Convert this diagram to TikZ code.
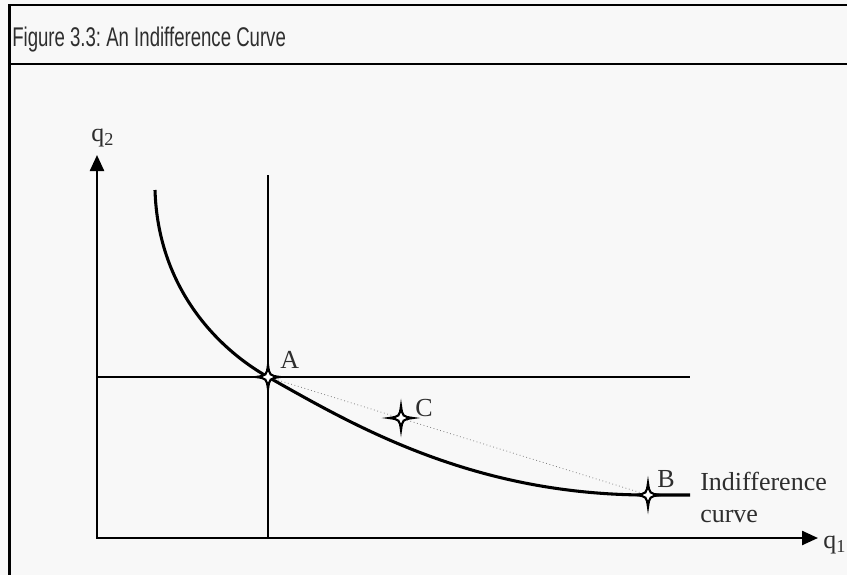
\documentclass[tikz,border=0pt]{standalone}
\usepackage{fontspec}
\setmainfont{Liberation Serif}
\newfontfamily\titlefont{Liberation Sans}
\usepackage{xcolor}
\usetikzlibrary{arrows.meta}

\definecolor{paper}{HTML}{F8F8F8}
\definecolor{ink}{HTML}{2E2E2E}

\tikzset{
  axis/.style={line width=1.8pt, {Triangle[length=12pt,width=10.5pt]}-{Triangle[length=12pt,width=10.5pt]}},
  guide/.style={line width=1.4pt},
  icurve/.style={line width=2.3pt},
  chord/.style={line width=0.6pt, gray, dotted},
  lbl/.style={text=ink, font=\fontsize{19.5}{24}\selectfont, inner sep=0pt},
  sparkle/.pic={
    \draw[line width=1.6pt, fill=white] (0,-12) .. controls (1.5,-1.5) .. (12,0)
      .. controls (1.5,1.5) .. (0,12) .. controls (-1.5,1.5) .. (-12,0)
      .. controls (-1.5,-1.5) .. cycle;
  }
}

\begin{document}
\begin{tikzpicture}[x=0.75pt, y=-0.75pt]
\useasboundingbox (0,0) rectangle (847,575);
\fill[paper] (0,0) rectangle (847,575);

% Frame and caption
\draw[line width=2.2pt] (847,5) -- (9.5,5) -- (9.5,575);
\draw[line width=2.2pt] (9.5,64) -- (847,64);
\node[anchor=base west, inner sep=0pt, text=ink, font=\titlefont\fontsize{15}{18}\selectfont]
  (title) at (12,46) {\scalebox{0.93}[1.35]{Figure 3.3:\ An Indifference Curve}};

% Points
\coordinate (O) at (97,538);
\coordinate (Ytop) at (97,155);
\coordinate (Xend) at (818,538);
\coordinate (A) at (268,377);
\coordinate (B) at (648,495);
\coordinate (C) at (401,418);
\coordinate (Vtop) at (268,175);
\coordinate (Vbot) at (268,538);
\coordinate (Hleft) at (97,377);
\coordinate (Hend) at (690,377);
\coordinate (Cstart) at (155,190);
\coordinate (Cend) at (690,495);

% Axes
\draw[axis] (Ytop) -- (O) -- (Xend);
\node[lbl, anchor=base west] (q2) at (91,141) {q\textsubscript{2}};
\node[lbl, anchor=base west] (q1) at (823,548) {q\textsubscript{1}};

% Lines through A
\draw[guide] (Vtop) -- (Vbot);
\draw[guide] (Hleft) -- (Hend);

% Indifference curve
\draw[icurve] (Cstart) .. controls (158,290) and (220,350) .. (A)
  .. controls (350,423) and (470,495) .. (B) -- (Cend);

% Chord from A to B
\draw[chord] (A) -- (B);

% Markers
\foreach \point in {A,B,C}
  \pic at (\point) {sparkle};

% Labels
\node[lbl, anchor=base west] (labA) at (280,368) {A};
\node[lbl, anchor=base west] (labB) at (657,487) {B};
\node[lbl, anchor=base west] (labC) at (415,416) {C};
\node[lbl, anchor=base west, text width=150pt, align=left] (labIC) at (700,490)
  {Indifference\\curve};
\end{tikzpicture}
\end{document}
